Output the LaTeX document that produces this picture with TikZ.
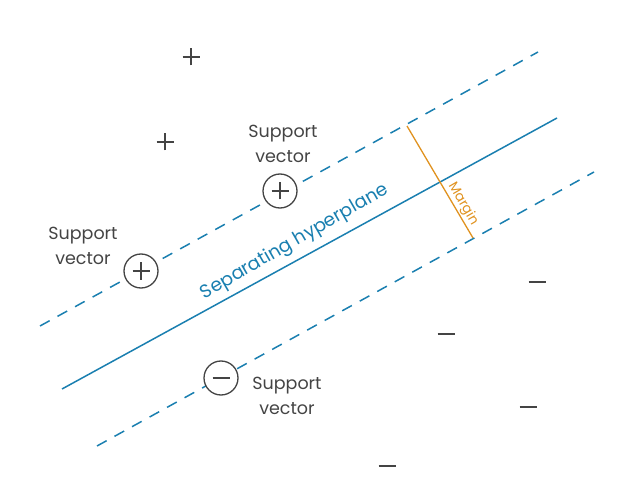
\documentclass[tikz,border=0pt]{standalone}
\usepackage{fontspec}
\setmainfont{Poppins}
\usepackage{xcolor}
\usetikzlibrary{positioning}

\definecolor{svmblue}{HTML}{1A7FB0}
\definecolor{svmorange}{HTML}{E0921F}
\definecolor{svmgray}{HTML}{444444}

\begin{document}
\begin{tikzpicture}[
        x=1pt, y=-1pt,
        hyper/.style={svmblue, line width=1.5pt},
        marginline/.style={hyper, dash pattern=on 11pt off 9pt},
        sv/.style={circle, draw=svmgray, line width=1.3pt, minimum size=34pt, inner sep=0pt},
        datapt/.style={minimum size=20pt, inner sep=0pt},
        pluspic/.style={path picture={\draw[svmgray, line width=1.4pt]
            ([xshift=-8.5pt]path picture bounding box.center) -- ([xshift=8.5pt]path picture bounding box.center)
            ([yshift=-8.5pt]path picture bounding box.center) -- ([yshift=8.5pt]path picture bounding box.center);}},
        minuspic/.style={path picture={\draw[svmgray, line width=1.4pt]
            ([xshift=-8.5pt]path picture bounding box.center) -- ([xshift=8.5pt]path picture bounding box.center);}},
        lbl/.style={align=center, text=svmgray, font=\fontsize{17.5}{25}\selectfont, inner sep=0pt}
    ]
    \useasboundingbox (0,0) rectangle (624,489);

    % hyperplane and margins
    \coordinate (hA) at (62,389);
    \coordinate (hB) at (557,118);
    \coordinate (uA) at (40,326);
    \coordinate (uB) at (538,52);
    \coordinate (lA) at (97,446);
    \coordinate (lB) at (594,172);
    \draw[hyper] (hA) -- (hB);
    \draw[marginline] (uA) -- (uB);
    \draw[marginline] (lA) -- (lB);

    \coordinate (mtop) at (407,126);
    \coordinate (mbot) at (473,238);
    \draw[svmorange, line width=1.3pt] (mtop) -- (mbot);
    \node[svmorange, rotate=-60, inner sep=0pt, font=\fontsize{13.5}{15}\selectfont] (margin) at (463,204) {Margin};

    \node[svmblue, rotate=30, inner sep=0pt, font=\fontsize{18.5}{20}\selectfont] (sep) at (295,242) {Separating hyperplane};

    % support vectors
    \node[sv, fill=white, pluspic] (sv1) at (280,191) {};
    \node[sv, fill=white, pluspic] (sv2) at (141,271) {};
    \node[sv, fill=white, minuspic] (sv3) at (221,378) {};
    \node[lbl] (l1) at (283,144) {Support\\vector};
    \node[lbl] (l2) at (83,246) {Support\\vector};
    \node[lbl] (l3) at (287,396) {Support\\vector};

    % other points
    \node[datapt, pluspic] (p1) at (191,57) {};
    \node[datapt, pluspic] (p2) at (165,142) {};
    \node[datapt, minuspic] (m1) at (537,282) {};
    \node[datapt, minuspic] (m2) at (446,334) {};
    \node[datapt, minuspic] (m3) at (528,407) {};
    \node[datapt, minuspic] (m4) at (387,466) {};
    \end{tikzpicture}
\end{document}
